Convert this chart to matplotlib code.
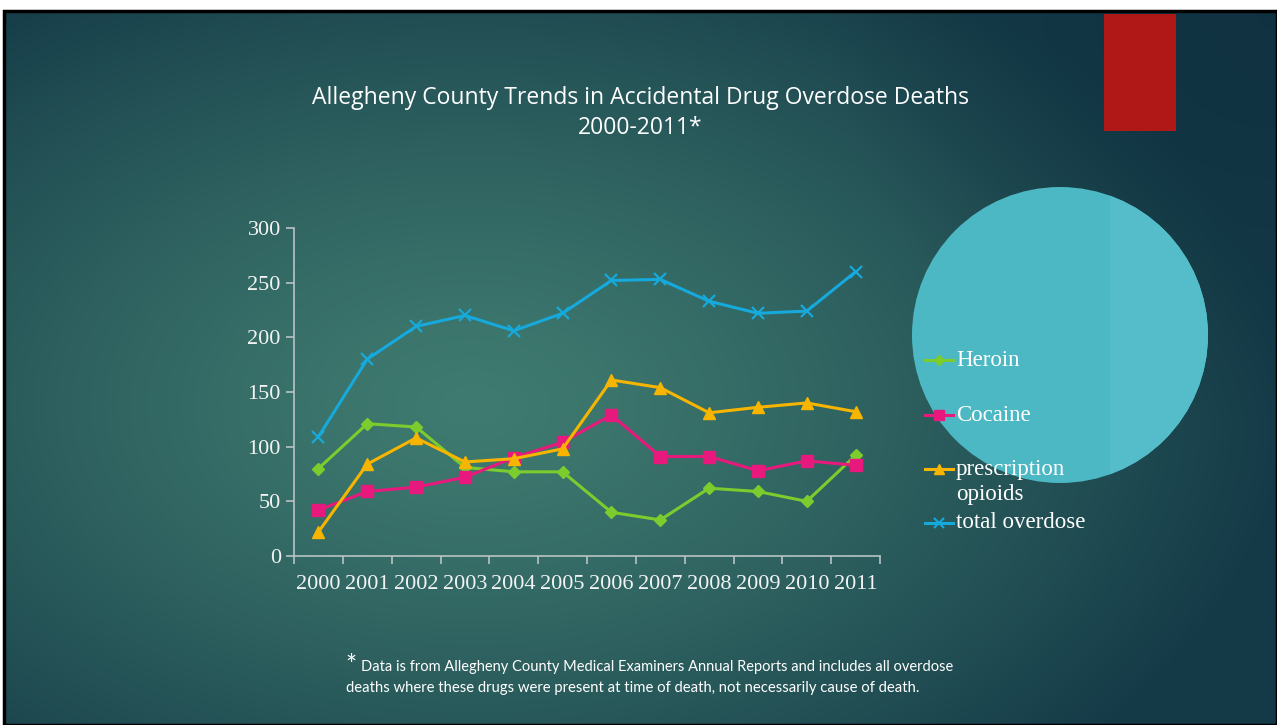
import numpy as np
import matplotlib
matplotlib.use("Agg")
import matplotlib.pyplot as plt
from matplotlib.patches import Circle, Rectangle
from matplotlib.lines import Line2D

# data
years = ["2000", "2001", "2002", "2003", "2004", "2005",
         "2006", "2007", "2008", "2009", "2010", "2011"]
heroin = [80, 121, 118, 81, 77, 77, 40, 33, 62, 59, 50, 92]
cocaine = [42, 59, 63, 72, 90, 104, 129, 91, 91, 78, 87, 83]
prescription = [22, 84, 108, 86, 89, 98, 161, 154, 131, 136, 140, 132]
total = [109, 180, 210, 220, 206, 222, 252, 253, 233, 222, 224, 260]

series_names = ["Heroin", "Cocaine", "prescription\nopioids", "total overdose"]
series_colors = ["#7ccc2e", "#e8197c", "#f7b500", "#16a9dc"]
series_markers = ["D", "s", "^", "x"]

W, H = 1277, 725
fig = plt.figure(figsize=(W / 100, H / 100), dpi=100)
fig.patch.set_facecolor("white")

# ---------- slide background ----------
bg = fig.add_axes([0, 0, 1, 1], zorder=0)
bg.set_xlim(0, W)
bg.set_ylim(H, 0)
bg.axis("off")

yy, xx = np.mgrid[0:H, 0:W]
d = np.sqrt(((xx - 470) / 820.0) ** 2 + ((yy - 400) / 520.0) ** 2)
t = np.clip(d, 0, 1) ** 1.3
inner = np.array([0x3f, 0x7b, 0x70]) / 255.0
outer = np.array([0x14, 0x3a, 0x47]) / 255.0
img = inner[None, None, :] * (1 - t[..., None]) + outer[None, None, :] * t[..., None]
# darker blue toward the top right
tr = np.clip(1 - np.sqrt(((xx - 1277) / 450.0) ** 2 + ((yy - 0) / 420.0) ** 2), 0, 1)
dark = np.array([0x0e, 0x2e, 0x3e]) / 255.0
img = img * (1 - 0.7 * tr[..., None]) + dark[None, None, :] * 0.7 * tr[..., None]
bg.imshow(img, extent=[4, W, H, 11], aspect="auto", zorder=0)
bg.add_patch(Rectangle((4, 11), W - 4, H - 11, fill=False, edgecolor="black",
                       linewidth=2.5, zorder=1))

# red block and the big circle
bg.add_patch(Rectangle((1104, 14), 72, 117, facecolor="#b01818", edgecolor="none", zorder=2))
circ = Circle((1060, 335), 148, facecolor="#4cb8c3", edgecolor="none", zorder=2)
bg.add_patch(circ)
shade = Rectangle((1110, 180), 110, 320, facecolor="#55bdca", edgecolor="none", zorder=3)
bg.add_patch(shade)
shade.set_clip_path(circ)

# ---------- chart ----------
ax = fig.add_axes([294 / W, 1 - 556 / H, 586 / W, 328 / H], zorder=2)
ax.patch.set_alpha(0)
x = np.arange(len(years))
for vals, c, m in zip([heroin, cocaine, prescription, total], series_colors, series_markers):
    ms = 6 if m == "D" else 8
    ax.plot(x, vals, color=c, marker=m, markersize=ms, linewidth=2.2,
            markeredgewidth=1.6 if m == "x" else 1, markeredgecolor=c, zorder=3)

ax.set_xlim(-0.5, len(years) - 0.5)
ax.set_ylim(0, 300)
ax.set_yticks(range(0, 301, 50))
ax.set_xticks(np.arange(-0.5, len(years), 1.0))
ax.set_xticklabels([])
ax.set_xticks(x, minor=True)
ax.set_xticklabels(years, minor=True)
spine_c = "#b8c4c4"
for s in ["top", "right"]:
    ax.spines[s].set_visible(False)
for s in ["left", "bottom"]:
    ax.spines[s].set_color(spine_c)
    ax.spines[s].set_linewidth(1.2)
ax.tick_params(axis="both", which="major", color=spine_c, length=6, width=1.2,
               labelcolor="#f2f4f4", labelsize=16)
ax.tick_params(axis="x", which="minor", length=0, pad=14, labelcolor="#f2f4f4", labelsize=16)
for lab in ax.get_yticklabels() + ax.get_xticklabels(minor=True):
    lab.set_fontfamily("Liberation Serif")

# ---------- legend (drawn by hand to keep the slide's spacing) ----------
leg_y = [360, 415, 469, 523]
leg_font = dict(color="white", fontsize=16.5, family="Liberation Serif", ha="left",
                va="center", zorder=6)
for name, c, m, ly in zip(series_names, series_colors, series_markers, leg_y):
    ms = 5 if m == "D" else 7
    bg.add_line(Line2D([925, 953], [ly, ly], color=c, linewidth=2.2, zorder=5))
    bg.add_line(Line2D([939], [ly], color=c, marker=m, markersize=ms,
                       markeredgecolor=c, markeredgewidth=1.5 if m == "x" else 1, zorder=5))
    for i, part in enumerate(name.split("\n")):
        bg.text(956, ly + 25 * i, part, **leg_font)

# ---------- titles and footnote ----------
bg.text(640, 98, "Allegheny County Trends in Accidental Drug Overdose Deaths",
        color="white", fontsize=16.5, family="Open Sans", ha="center", va="center", zorder=6)
bg.text(640, 128, "2000-2011*", color="white", fontsize=16.5, family="Open Sans",
        ha="center", va="center", zorder=6)
bg.text(345, 667, "*", color="white", fontsize=19, family="Lato", ha="left", va="center", zorder=6)
bg.text(361, 667, "Data is from Allegheny County Medical Examiners Annual Reports and includes all overdose",
        color="white", fontsize=10.5, family="Lato", ha="left", va="center", zorder=6)
bg.text(346, 688, "deaths where these drugs were present at time of death, not necessarily cause of death.",
        color="white", fontsize=10.7, family="Lato", ha="left", va="center", zorder=6)

fig.savefig("out.png", dpi=100)
